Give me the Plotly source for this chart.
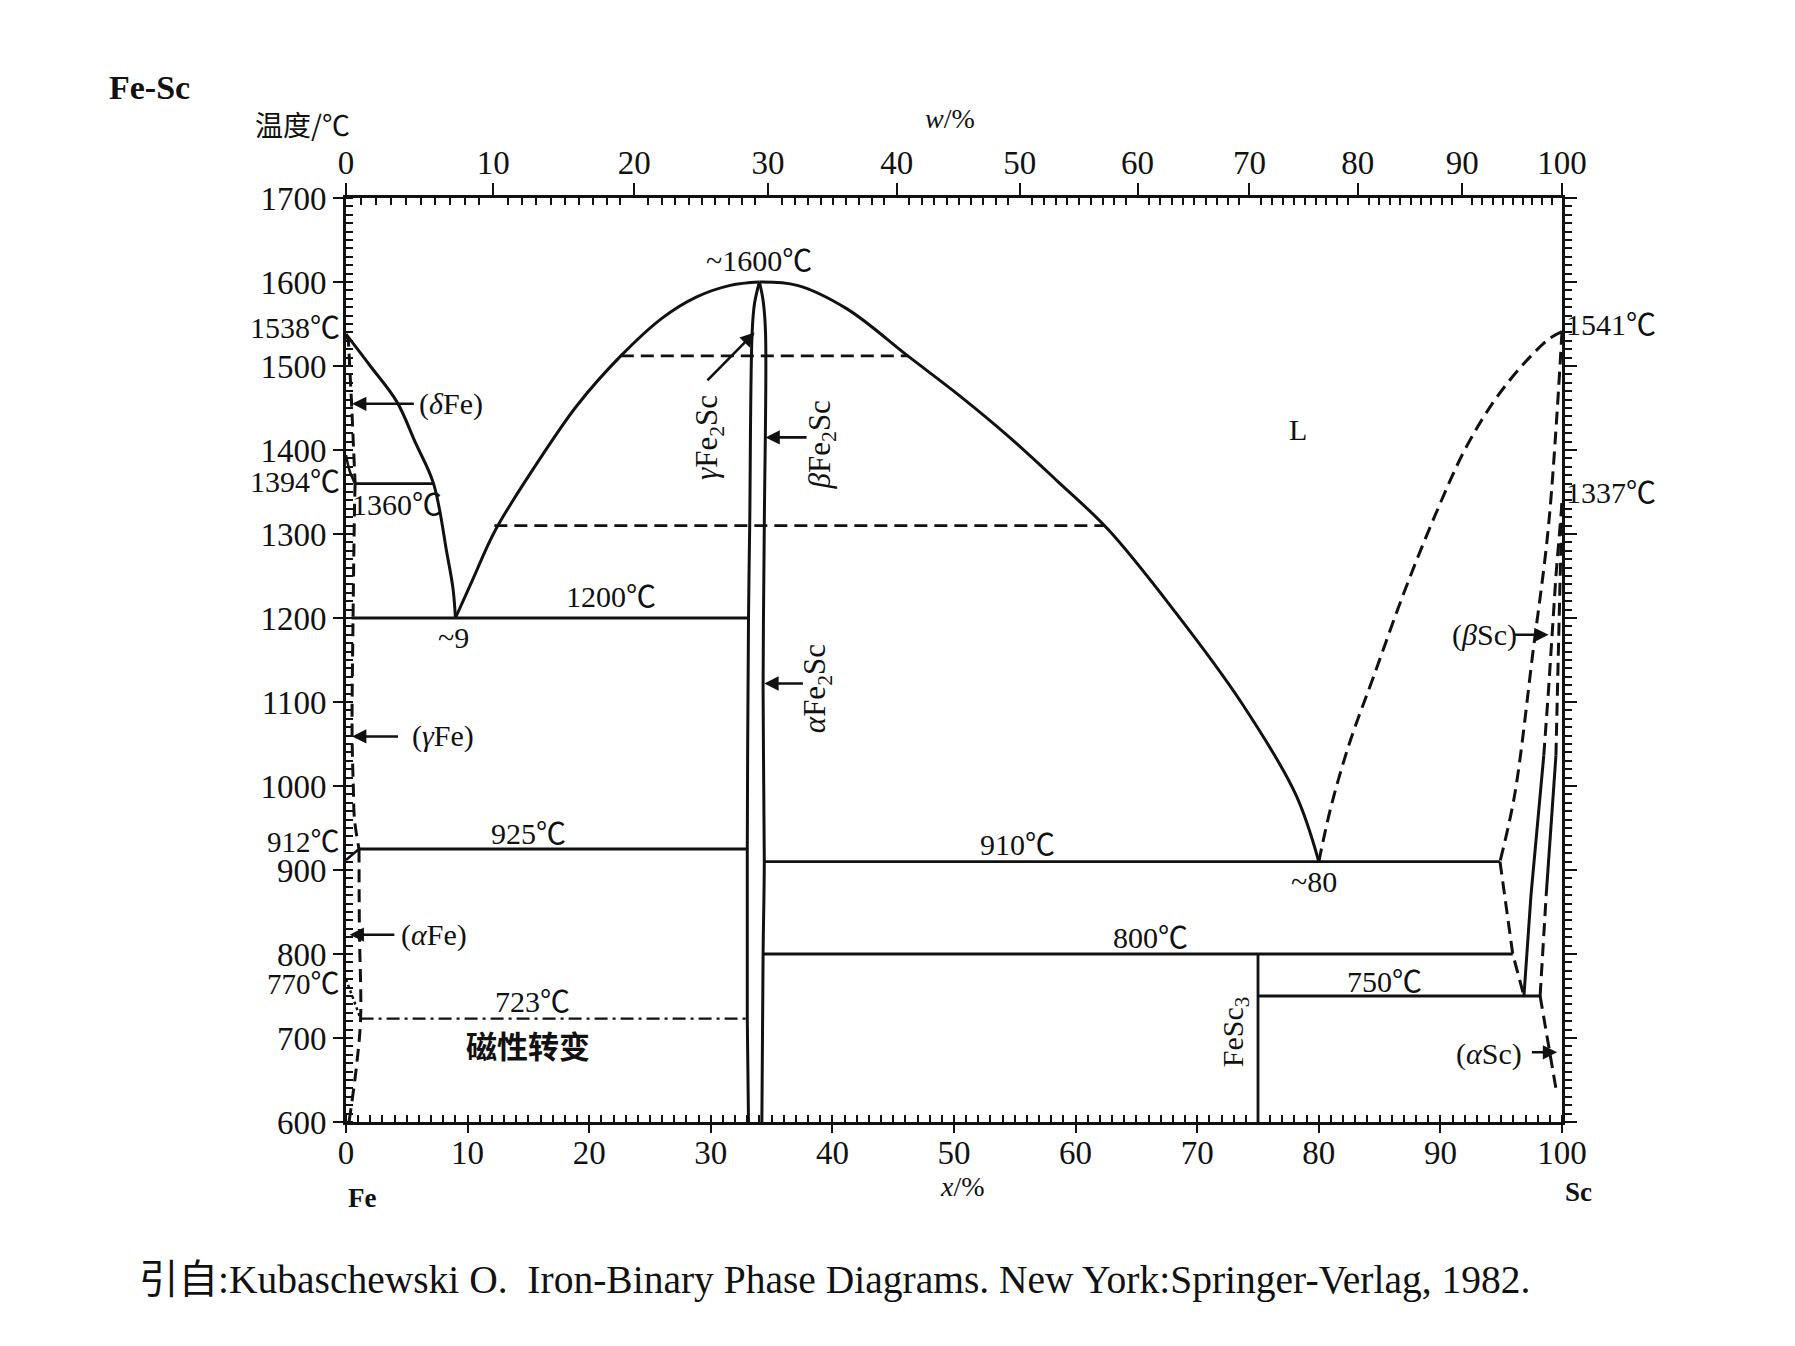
import plotly.graph_objects as go

# ---------------- data (x = at.% Sc, T = temperature in °C) ----------------
# liquidus, Fe side (delta-Fe) down to the ~9 eutectic
liq_fe_x = [0, 2.0, 4.2, 5.7, 7.2, 8.3, 8.8, 9.0]
liq_fe_t = [1538, 1500, 1457, 1409, 1360, 1277, 1235, 1200]
# liquidus rising to Fe2Sc congruent maximum
liq_up_x = [9.0, 10.4, 12.3, 16.2, 19.0, 22.6, 26.0, 28.8, 31.6, 34.0]
liq_up_t = [1200, 1245, 1305, 1395, 1453, 1512, 1557, 1582, 1596, 1600]
# liquidus falling to the ~80 eutectic
liq_dn_x = [34.0, 37.1, 41.2, 46.2, 50.6, 54.5, 58.5, 62.7, 68.2, 73.6, 78.1, 80.0]
liq_dn_t = [1600, 1596, 1568, 1512, 1463, 1416, 1363, 1305, 1207, 1100, 990, 910]
# liquidus, Sc side (dashed)
liq_sc_x = [80.0, 81.0, 82.5, 84.5, 87.0, 89.5, 92.0, 94.5, 97.0, 99.0, 100]
liq_sc_t = [910, 975, 1050, 1130, 1230, 1320, 1400, 1460, 1505, 1533, 1541]

# Fe2Sc homogeneity range
fe2sc_l_x = [34.0, 33.6, 33.4, 33.2, 33.1, 33.0, 33.0, 33.1]
fe2sc_l_t = [1600, 1575, 1540, 1310, 1200, 925, 723, 600]
fe2sc_r_x = [34.0, 34.3, 34.5, 34.4, 34.3, 34.4, 34.3, 34.2]
fe2sc_r_t = [1600, 1578, 1540, 1310, 1115, 910, 800, 600]

# Fe-rich solid solutions
dfe_x = [0, 0.2, 0.46, 0.75]            # (deltaFe) boundary, dashed
dfe_t = [1538, 1530, 1455, 1360]
dg_x = [0, 0.3, 0.75]                   # 1394 -> 1360 solid
dg_t = [1394, 1375, 1360]
gfe_x = [0.75, 0.7, 0.58, 0.5, 0.6, 0.7, 1.07]   # (gammaFe) boundary, dashed
gfe_t = [1360, 1330, 1200, 1060, 1000, 960, 925]
ga_x = [0, 1.07]                        # 912 -> 925 solid
ga_t = [912, 925]
afe_x = [1.07, 1.1, 1.2, 0.85, 0.25]    # (alphaFe) boundary, dashed
afe_t = [925, 830, 723, 665, 600]
mag_x = [0, 1.2]                        # magnetic 770 -> 723
mag_t = [770, 723]

# Sc-rich solid solutions
bsc_sol_x = [100, 98.9, 97.6, 96.1, 94.9]      # (betaSc) solidus, dashed
bsc_sol_t = [1541, 1311, 1158, 989, 910]
bsc_solv_x = [94.9, 95.95, 96.87]              # (betaSc) solvus, dashed
bsc_solv_t = [910, 800, 750]
bsc_r_sol_x = [96.87, 97.45, 98.5]             # betaSc / (a+b) solid part
bsc_r_sol_t = [750, 870, 1036]
bsc_r_dsh_x = [98.5, 98.9, 99.5, 100]          # dashed part up to 1337
bsc_r_dsh_t = [1036, 1116, 1250, 1337]
asc_l_dsh1_x = [98.2, 98.7]                    # alphaSc boundary
asc_l_dsh1_t = [750, 870]
asc_l_sol_x = [98.7, 99.5]
asc_l_sol_t = [870, 1036]
asc_l_dsh2_x = [99.5, 99.65, 99.85, 100]
asc_l_dsh2_t = [1036, 1116, 1250, 1337]
asc_solv_x = [98.2, 98.9, 99.5]                # alphaSc solvus below 750
asc_solv_t = [750, 690, 640]

# invariant / transition lines  (x_start, x_end, T)
inv_1360 = (0.75, 7.2, 1360)
inv_1200 = (0.45, 33.1, 1200)
inv_925 = (1.07, 33.0, 925)
inv_910 = (34.4, 94.9, 910)
inv_800 = (34.3, 95.95, 800)
inv_750 = (75.0, 98.2, 750)
mag_723 = (1.2, 33.0, 723)
poly_1512 = (22.6, 46.2, 1512)
poly_1310 = (12.2, 62.4, 1310)
fesc3_x = [75.0, 75.0]
fesc3_t = [800, 600]

# axes
x_ticks = [0, 10, 20, 30, 40, 50, 60, 70, 80, 90, 100]
t_ticks = [600, 700, 800, 900, 1000, 1100, 1200, 1300, 1400, 1500, 1600, 1700]
w_labels = ["0", "10", "20", "30", "40", "50", "60", "70", "80", "90", "100"]
w_pos_at = [0, 12.1, 23.7, 34.7, 45.3, 55.4, 65.1, 74.3, 83.2, 91.8, 100]

M_FE, M_SC = 55.845, 44.956


def w_to_at(w):
    a = w / M_SC
    b = (100 - w) / M_FE
    return 100 * a / (a + b)


w_minor = [w_to_at(w) for w in range(1, 100) if w % 10 != 0]

SERIF = "Liberation Serif, Noto Sans CJK SC"
CJK = "Noto Sans CJK SC"
BLACK = "#111111"
DASH = "13px,7px"

W, H = 1795, 1346
ML, MR, MT, MB = 346, 233, 198, 224
PW, PH = W - ML - MR, H - MT - MB


def px(xp):
    return (xp - ML) / PW


def py(yp):
    return (H - MB - yp) / PH


fig = go.Figure()


def add(x, y, dash="solid", width=3.0, shape="linear", xa="x", ya="y"):
    fig.add_trace(go.Scatter(
        x=x, y=y, mode="lines", xaxis=xa, yaxis=ya,
        line=dict(color=BLACK, width=width, dash=dash, shape=shape, smoothing=1.0),
        hoverinfo="skip", showlegend=False))


def hline(seg, dash="solid", width=2.8):
    add([seg[0], seg[1]], [seg[2], seg[2]], dash=dash, width=width)


# liquidus
add(liq_fe_x, liq_fe_t, shape="spline")
add(liq_up_x, liq_up_t, shape="spline")
add(liq_dn_x, liq_dn_t, shape="spline")
add(liq_sc_x, liq_sc_t, dash=DASH, shape="spline")
# Fe2Sc
add(fe2sc_l_x, fe2sc_l_t, shape="spline")
add(fe2sc_r_x, fe2sc_r_t, shape="spline")
# Fe side
add(dfe_x, dfe_t, dash=DASH)
add(dg_x, dg_t, width=2.5, shape="spline")
add(gfe_x, gfe_t, dash=DASH, shape="spline")
add(ga_x, ga_t, width=2.5)
add(afe_x, afe_t, dash=DASH, shape="spline")
add(mag_x, mag_t, dash="dot", width=2.5)
# Sc side
add(bsc_sol_x, bsc_sol_t, dash=DASH, shape="spline")
add(bsc_solv_x, bsc_solv_t, dash=DASH)
add(bsc_r_sol_x, bsc_r_sol_t)
add(bsc_r_dsh_x, bsc_r_dsh_t, dash=DASH)
add(asc_l_dsh1_x, asc_l_dsh1_t, dash=DASH)
add(asc_l_sol_x, asc_l_sol_t)
add(asc_l_dsh2_x, asc_l_dsh2_t, dash=DASH)
add(asc_solv_x, asc_solv_t, dash=DASH)
# horizontals
hline(inv_1360)
hline(inv_1200)
hline(inv_925)
hline(inv_910)
hline(inv_800)
hline(inv_750)
hline(mag_723, dash="13px,5px,3px,5px", width=2.3)
hline(poly_1512, dash=DASH, width=2.6)
hline(poly_1310, dash=DASH, width=2.6)
# FeSc3 (drawn on the secondary axes so that the top/right axes render)
add(fesc3_x, fesc3_t, width=2.8, xa="x2", ya="y2")

ann = []


def text(x, y, s, size=30, xanchor="center", angle=0, xref="x", yref="y", xshift=0, font=SERIF):
    ann.append(dict(x=x, y=y, text=s, showarrow=False, xref=xref, yref=yref,
                    xanchor=xanchor, yanchor="middle", textangle=angle, xshift=xshift,
                    font=dict(family=font, size=size, color=BLACK)))


def ptext(xp, yp, s, size=30, xanchor="center", font=SERIF):
    text(px(xp), py(yp), s, size=size, xanchor=xanchor, xref="paper", yref="paper", font=font)


def arrow(x0, y0, x1, y1):
    ann.append(dict(x=x1, y=y1, ax=x0, ay=y0, xref="x", yref="y", axref="x", ayref="y",
                    text="", showarrow=True, arrowhead=2, arrowsize=1.1, arrowwidth=2.6,
                    arrowcolor=BLACK, standoff=0, startstandoff=0))


# in-plot labels
text(34.0, 1626, "~1600℃")
text(4.2, 1335, "1360℃")
text(8.8, 1177, "~9")
text(21.8, 1226, "1200℃")
text(15.0, 944, "925℃")
text(15.3, 743, "723℃")
text(15.0, 692, "<b>磁性转变</b>", size=31, font=CJK)
text(55.2, 930, "910℃")
text(79.6, 886, "~80")
text(66.2, 820, "800℃")
text(85.4, 767, "750℃")
text(73.1, 708, "FeSc<sub>3</sub>", angle=-90)
text(78.3, 1424, "L")
text(8.6, 1455, "(<i>δ</i>Fe)")
arrow(5.7, 1455, 0.5, 1455)
text(8.0, 1059, "(<i>γ</i>Fe)")
arrow(4.4, 1059, 0.5, 1059)
text(7.2, 823, "(<i>α</i>Fe)")
arrow(4.1, 823, 0.3, 823)
text(29.9, 1415, "<i>γ</i>Fe<sub>2</sub>Sc", angle=-90, size=31)
arrow(29.6, 1481, 33.6, 1540)
text(39.1, 1406, "<i>β</i>Fe<sub>2</sub>Sc", angle=-90, size=31)
arrow(38.0, 1415, 34.5, 1415)
text(38.7, 1116, "<i>α</i>Fe<sub>2</sub>Sc", angle=-90, size=31)
arrow(37.7, 1122, 34.4, 1122)
text(93.6, 1180, "(<i>β</i>Sc)")
arrow(96.0, 1180, 98.9, 1180)
text(94.0, 681, "(<i>α</i>Sc)")
arrow(97.4, 683, 99.6, 683)

# labels beside the axes
text(0, 1546, "1538℃", xanchor="right", xshift=-4)
text(0, 1362, "1394℃", xanchor="right", xshift=-4)
text(0, 933, "912℃", xanchor="right", xshift=-4, size=29)
text(0, 764, "770℃", xanchor="right", xshift=-4, size=29)
text(100, 1550, "1541℃", xanchor="left", xshift=2)
text(100, 1349, "1337℃", xanchor="left", xshift=2)

# titles (positions in page pixels)
ptext(149, 87, "<b>Fe-Sc</b>", size=34)
ptext(302, 124, "温度/℃", size=28, font=CJK)
ptext(950, 118, "<i>w</i>/%", size=28)
ptext(962, 1186, "<i>x</i>/%", size=28)
ptext(362, 1198, "<b>Fe</b>", size=27)
ptext(1578, 1192, "<b>Sc</b>", size=27)
ptext(137, 1280,
      "引自:Kubaschewski O.  Iron-Binary Phase Diagrams. New York:Springer-Verlag, 1982.",
      size=39.5, xanchor="left")

axis_common = dict(showgrid=False, zeroline=False, showline=True, linecolor=BLACK,
                   linewidth=2.6, tickcolor=BLACK, tickwidth=2,
                   tickfont=dict(family=SERIF, size=33, color=BLACK))

fig.update_layout(
    width=W, height=H,
    margin=dict(l=ML, r=MR, t=MT, b=MB),
    paper_bgcolor="white", plot_bgcolor="white",
    showlegend=False,
    annotations=ann,
    xaxis=dict(range=[0, 100], tickvals=x_ticks, ticks="outside", ticklen=8,
               ticklabelstandoff=-8,
               minor=dict(ticks="inside", dtick=1, tick0=0, ticklen=7, tickwidth=1.5, tickcolor=BLACK),
               **axis_common),
    yaxis=dict(range=[600, 1700], tickvals=t_ticks, ticks="outside", ticklen=10,
               minor=dict(ticks="inside", dtick=10, tick0=600, ticklen=7, tickwidth=1.5, tickcolor=BLACK),
               **axis_common),
    xaxis2=dict(range=[0, 100], overlaying="x", side="top", anchor="y2",
                tickvals=w_pos_at, ticktext=w_labels, ticks="outside", ticklen=12,
                ticklabelstandoff=-4,
                minor=dict(ticks="inside", tickvals=w_minor, ticklen=7, tickwidth=1.5, tickcolor=BLACK),
                **axis_common),
    yaxis2=dict(range=[600, 1700], overlaying="y", side="right", anchor="x2",
                tickvals=t_ticks, showticklabels=False, ticks="outside", ticklen=12,
                minor=dict(ticks="outside", dtick=10, tick0=600, ticklen=7, tickwidth=1.5, tickcolor=BLACK),
                **axis_common),
)

fig.write_html("out.html")
